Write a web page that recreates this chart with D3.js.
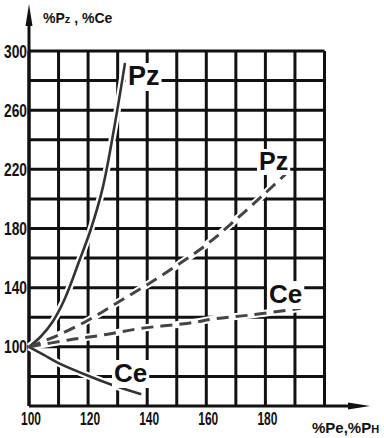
<!DOCTYPE html>
<html>
<head>
<meta charset="utf-8">
<script src="https://cdn.jsdelivr.net/npm/d3@7"></script>
<style>
  html, body { margin: 0; padding: 0; background: #fff; }
  svg { display: block; }
  text { font-family: "Liberation Sans", Arial, sans-serif; fill: #111; }
</style>
</head>
<body>
<svg id="chart" width="384" height="438"></svg>
<script>
// 数据
const xTicks = [100, 120, 140, 160, 180];
const yTicks = [100, 140, 180, 220, 260, 300];
const xGrid = d3.range(100, 201, 10);
const yGrid = d3.range(80, 301, 20);

// 实线 Pz
const pzSolid = [[100, 100], [104, 107], [108, 117], [112, 132], [117, 158], [121, 180], [125, 208], [129, 250], [132.5, 292]];
// 实线 Ce
const ceSolid = [[100, 100], [105, 94.5], [110, 89], [120, 80.5], [130, 73], [138, 68]];
// 虚线 Pz
const pzDashed = [[100, 100], [110, 108], [120, 118], [130, 130], [140, 142], [150, 155], [160, 169], [170, 186], [180, 204], [187, 217]];
// 虚线 Ce
const ceDashed = [[100, 100], [113, 104.5], [125, 108], [138, 112.5], [154, 116], [163, 119], [175, 121.5], [192, 126]];

const svg = d3.select("#chart");

const x = d3.scaleLinear().domain([100, 200]).range([29, 324.5]);
const y = d3.scaleLinear().domain([60, 300]).range([406, 51]);

const g = svg.append("g");

// 网格
g.append("g").selectAll("line")
    .data(xGrid)
    .enter().append("line")
    .attr("x1", d => x(d)).attr("x2", d => x(d))
    .attr("y1", y(300)).attr("y2", y(60))
    .attr("stroke", "#111").attr("stroke-width", 3);

g.append("g").selectAll("line")
    .data(yGrid)
    .enter().append("line")
    .attr("x1", x(100)).attr("x2", x(200))
    .attr("y1", d => y(d)).attr("y2", d => y(d))
    .attr("stroke", "#111").attr("stroke-width", 3);

// 坐标轴 + 箭头
g.append("line")
    .attr("x1", x(100)).attr("x2", x(100))
    .attr("y1", y(60)).attr("y2", 18)
    .attr("stroke", "#111").attr("stroke-width", 3);
g.append("path")
    .attr("d", `M${x(100)},4 L${x(100) - 3.5},26 L${x(100) + 3.5},26 Z`)
    .attr("fill", "#111");

g.append("line")
    .attr("x1", x(100)).attr("x2", 355)
    .attr("y1", y(60)).attr("y2", y(60))
    .attr("stroke", "#111").attr("stroke-width", 3);
g.append("path")
    .attr("d", `M370,${y(60)} L348,${y(60) - 3.5} L348,${y(60) + 3.5} Z`)
    .attr("fill", "#111");

// 曲线
const line = d3.line()
    .x(d => x(d[0]))
    .y(d => y(d[1]))
    .curve(d3.curveCatmullRom.alpha(0.5));

const curves = [
    { data: pzSolid, dash: null, color: "#333", w: 2.6 },
    { data: ceSolid, dash: null, color: "#333", w: 2.6 },
    { data: pzDashed, dash: "12,7", color: "#444", w: 3 },
    { data: ceDashed, dash: "12,7", color: "#444", w: 3 }
];

// 白色描边，使网格线在曲线处断开
g.append("g").selectAll("path")
    .data(curves)
    .enter().append("path")
    .attr("d", d => line(d.data))
    .attr("fill", "none")
    .attr("stroke", "#fff")
    .attr("stroke-width", 7);

g.append("g").selectAll("path")
    .data(curves)
    .enter().append("path")
    .attr("d", d => line(d.data))
    .attr("fill", "none")
    .attr("stroke", d => d.color)
    .attr("stroke-width", d => d.w)
    .attr("stroke-dasharray", d => d.dash)
    .attr("stroke-linecap", "butt");

// 曲线标签
const labels = [
    { t: "Pz", x: 128, y: 85, size: 27 },
    { t: "Pz", x: 259, y: 170, size: 25 },
    { t: "Ce", x: 269, y: 303, size: 26 },
    { t: "Ce", x: 114, y: 382, size: 26 }
];

labels.forEach(l => {
    const txt = g.append("text")
        .attr("x", l.x).attr("y", l.y)
        .attr("font-size", l.size)
        .attr("font-weight", "bold")
        .text(l.t);
    const bb = txt.node().getBBox();
    g.insert("rect", () => txt.node())
        .attr("x", bb.x - 2).attr("y", bb.y + 2)
        .attr("width", bb.width + 4).attr("height", bb.height - 2)
        .attr("fill", "#fff");
});

// 刻度标签
g.append("g").selectAll("text")
    .data(yTicks)
    .enter().append("text")
    .attr("x", 27)
    .attr("y", d => y(d) + 6.5)
    .attr("text-anchor", "end")
    .attr("font-size", 18)
    .attr("font-weight", "bold")
    .attr("textLength", 23)
    .attr("lengthAdjust", "spacingAndGlyphs")
    .text(d => d);

g.append("g").selectAll("text")
    .data(xTicks)
    .enter().append("text")
    .attr("x", d => x(d) + 2)
    .attr("y", 425)
    .attr("text-anchor", "middle")
    .attr("font-size", 18)
    .attr("font-weight", "bold")
    .attr("textLength", 20)
    .attr("lengthAdjust", "spacingAndGlyphs")
    .text(d => d);

// 轴标题
const yTitle = g.append("text")
    .attr("x", 43).attr("y", 23)
    .attr("font-size", 14)
    .attr("font-weight", "bold");
yTitle.append("tspan").text("%P");
yTitle.append("tspan").attr("font-size", 11).text("z");
yTitle.append("tspan").text(" , %Ce");

const xTitle = g.append("text")
    .attr("x", 312).attr("y", 433)
    .attr("font-size", 15)
    .attr("font-weight", "bold");
xTitle.append("tspan").text("%Pe,%P");
xTitle.append("tspan").attr("font-size", 11).text("H");
</script>
</body>
</html>
